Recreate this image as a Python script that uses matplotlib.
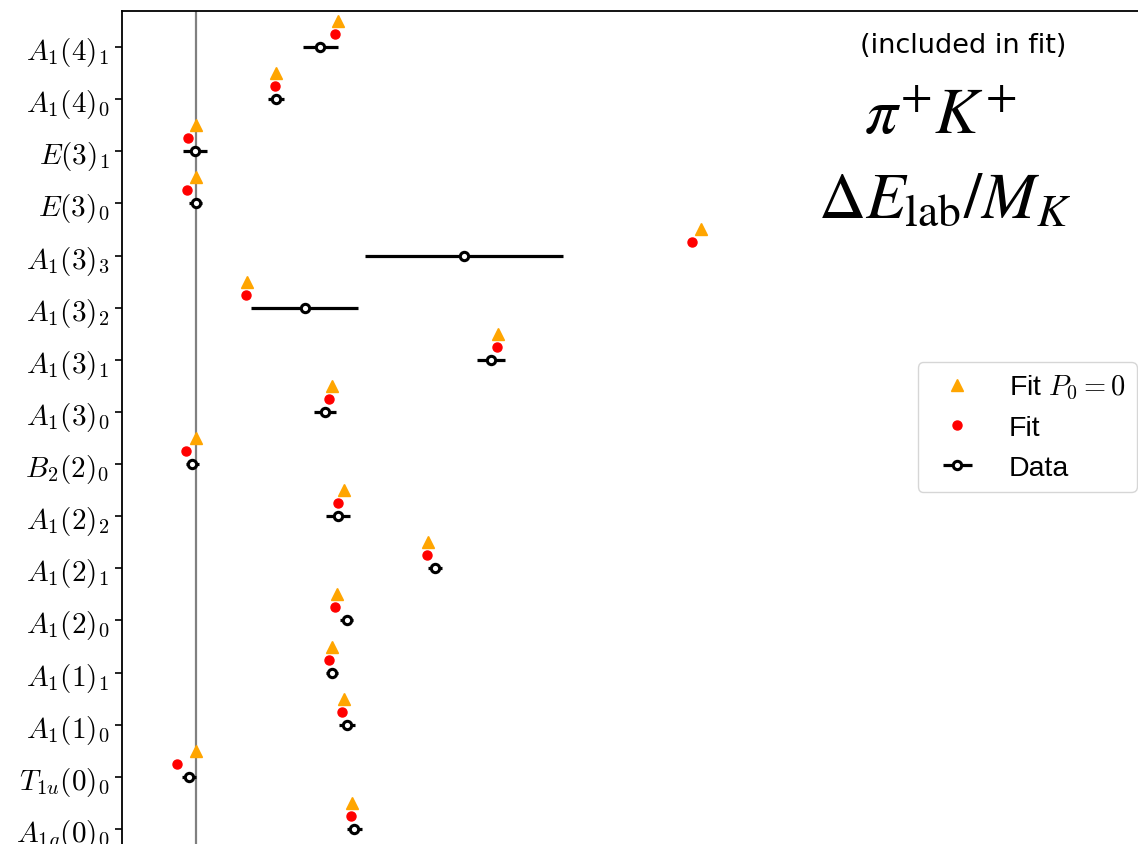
import matplotlib
matplotlib.use("Agg")
import matplotlib.pyplot as plt
import numpy as np

plt.rcParams['mathtext.fontset'] = 'cm'
plt.rcParams['font.family'] = ['DejaVu Sans']

labels = [r'$A_{1g}(0)_0$', r'$T_{1u}(0)_0$', r'$A_1(1)_0$', r'$A_1(1)_1$',
          r'$A_1(2)_0$', r'$A_1(2)_1$', r'$A_1(2)_2$', r'$B_2(2)_0$',
          r'$A_1(3)_0$', r'$A_1(3)_1$', r'$A_1(3)_2$', r'$A_1(3)_3$',
          r'$E(3)_0$', r'$E(3)_1$', r'$A_1(4)_0$', r'$A_1(4)_1$']

data_val = [1.583, -0.070, 1.516, 1.360, 1.510, 2.396, 1.426, -0.034,
            1.293, 2.953, 1.090, 2.686, 0.000, -0.007, 0.800, 1.246]
data_err = [0.075, 0.070, 0.080, 0.060, 0.067, 0.070, 0.120, 0.067,
            0.113, 0.140, 0.537, 0.990, 0.067, 0.123, 0.080, 0.178]
fit_val = [1.556, -0.184, 1.466, 1.330, 1.393, 2.316, 1.423, -0.094,
           1.330, 3.013, 0.506, 4.960, -0.084, -0.074, 0.790, 1.396]
fit_p0_val = [1.560, 0.000, 1.480, 1.366, 1.416, 2.320, 1.483, 0.000,
              1.360, 3.026, 0.516, 5.050, 0.000, 0.000, 0.800, 1.426]

W, H = 1138, 845
fig = plt.figure(figsize=(W / 100, H / 100), dpi=100)
left_px, right_px, top_px, bottom_px = 122, 1146, 12, 846
ax = fig.add_axes([left_px / W, 1 - bottom_px / H,
                   (right_px - left_px) / W, (bottom_px - top_px) / H])

y = np.arange(len(labels))
ax.axvline(0, color='gray', lw=1.6, zorder=0)
ax.errorbar(data_val, y, xerr=data_err, fmt='o', color='black', ecolor='black',
            elinewidth=2.3, mfc='white', mec='black', mew=2.2, ms=6,
            capsize=0, label='Data', zorder=3)
ax.plot(fit_val, y + 0.25, 'o', color='red', ms=6.5, label='Fit', zorder=4)
ax.plot(fit_p0_val, y + 0.5, '^', color='orange', ms=8.5,
        label=r'Fit $P_0=0$', zorder=4)

ax.set_yticks(y)
ax.set_yticklabels(labels, fontsize=21)
ax.set_ylim(-0.307, 15.69)
ax.set_xlim(-0.737, 9.503)
ax.tick_params(axis='y', length=5, width=1.2, pad=4)
ax.spines['right'].set_visible(False)
ax.spines['bottom'].set_visible(False)
for s in ('left', 'top'):
    ax.spines[s].set_linewidth(1.3)
ax.set_xticks([])

handles, labs = ax.get_legend_handles_labels()
hmap = dict(zip(labs, handles))
order = [r'Fit $P_0=0$', 'Fit', 'Data']
leg = fig.legend([hmap[k] for k in order], order,
                 loc='center right', bbox_to_anchor=(1137 / W, 1 - 428 / H),
                 bbox_transform=fig.transFigure, borderaxespad=0,
                 prop={'family': 'Liberation Sans', 'size': 20.5},
                 handlelength=2.0, labelspacing=0.48)

fig.text(963 / W, 1 - 46 / H, '(included in fit)', ha='center', va='center',
         fontsize=19.5)
fig.text(940 / W, 1 - 116 / H, r'$\pi^{+}K^{+}$', ha='center', va='center',
         fontsize=47, math_fontfamily='stix')
fig.text(945 / W, 1 - 200 / H, r'$\Delta E_{\rm lab}/M_K$', ha='center',
         va='center', fontsize=47, math_fontfamily='stix')

fig.savefig('out.png', dpi=100)
